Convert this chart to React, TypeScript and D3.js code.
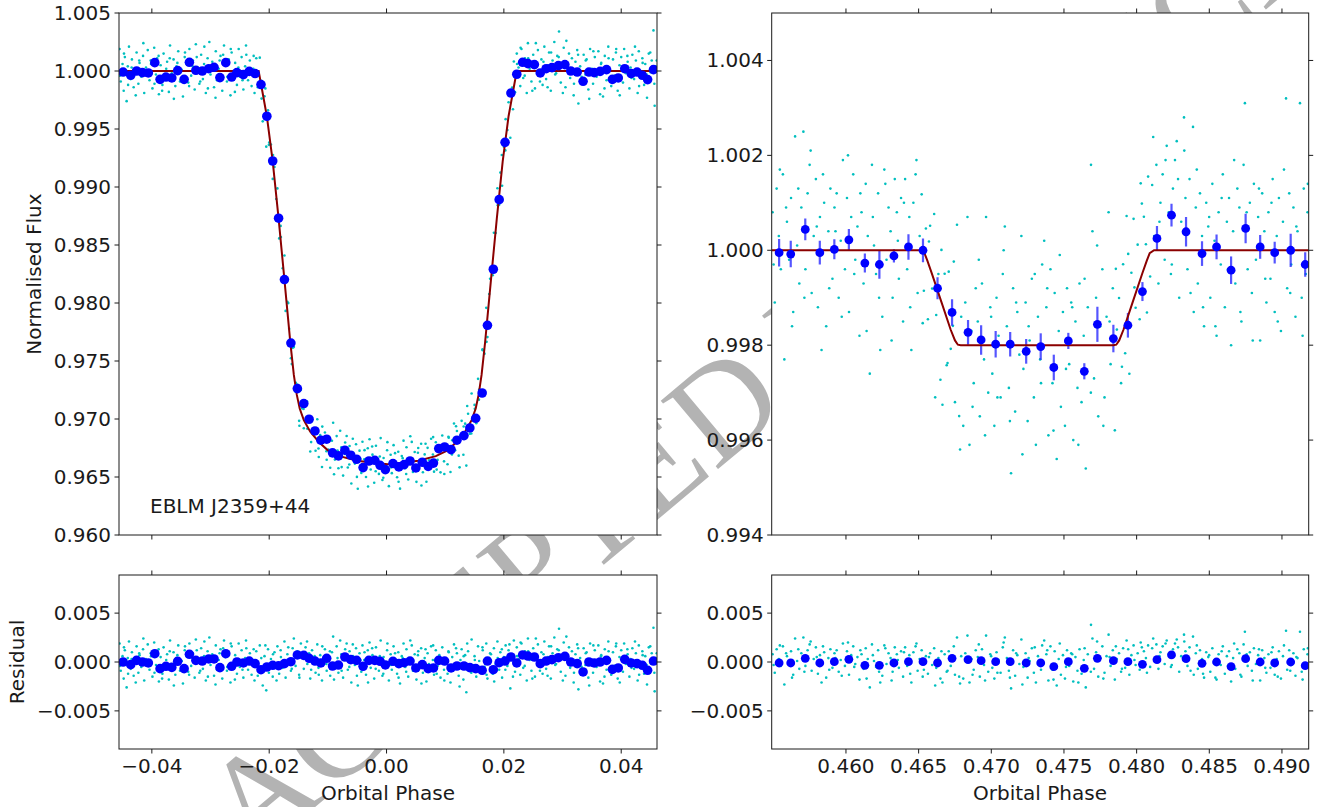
import React from 'react';
import * as d3 from 'd3';

// ---------- primary eclipse (left) ----------
const leftBinPhase = [
  -0.0449, -0.0436, -0.0426, -0.0416, -0.0406, -0.0395, -0.0386, -0.0376, -0.0366, -0.0356,
  -0.0345, -0.0336, -0.0325, -0.0314, -0.0303, -0.0294, -0.0284, -0.0274, -0.0264, -0.0255,
  -0.0244, -0.0234, -0.0224, -0.0214, -0.0204, -0.0194, -0.0184, -0.0174, -0.0163, -0.0152,
  -0.0141, -0.0132, -0.0122, -0.0112, -0.0102, -0.0092, -0.0082, -0.0071, -0.0061, -0.0051,
  -0.004, -0.003, -0.002, -0.0011, -0.0002, 0.0011, 0.0021, 0.003, 0.004, 0.005,
  0.0061, 0.0071, 0.008, 0.0089, 0.0099, 0.011, 0.012, 0.0132, 0.0142, 0.0152,
  0.0163, 0.0172, 0.0182, 0.0192, 0.0202, 0.0212, 0.0222, 0.0232, 0.0241, 0.0252,
  0.0262, 0.0272, 0.0282, 0.0293, 0.0304, 0.0314, 0.0325, 0.0335, 0.0345, 0.0354,
  0.0364, 0.0375, 0.0385, 0.0395, 0.0406, 0.0417, 0.0427, 0.0436, 0.0445, 0.0455,
];
const leftBinFlux = [
  0.99991, 0.99963, 1.0, 0.99986, 0.99983, 1.00072, 0.99928, 0.99948, 0.9994, 1.00003,
  0.99928, 1.00075, 1.00006, 1.0, 1.0002, 1.00032, 0.99943, 1.00072, 0.99948, 0.99986,
  0.99969, 0.99997, 0.99978, 0.99883, 0.9961, 0.99224, 0.98731, 0.98202, 0.97655, 0.97262,
  0.97133, 0.96998, 0.96897, 0.96817, 0.96826, 0.96708, 0.96682, 0.96731, 0.96688, 0.96653,
  0.96581, 0.96638, 0.96644, 0.96601, 0.96564, 0.96616, 0.96587, 0.96607, 0.96638, 0.96578,
  0.96627, 0.96592, 0.9662, 0.96745, 0.96759, 0.96736, 0.96817, 0.96857, 0.96923, 0.97006,
  0.97224, 0.97808, 0.98291, 0.98891, 0.99385, 0.9981, 0.99972, 1.00075, 1.00064, 1.00055,
  0.99983, 1.0002, 1.00029, 1.00046, 1.00055, 1.0, 0.99991, 0.99911, 0.99991, 0.99986,
  0.99997, 1.00012, 0.99928, 0.9994, 1.0002, 0.99978, 0.99991, 0.99963, 0.99926, 1.00012,
];
const leftBinResid = [
  0.0, -0.00027, 0.00017, 0.0, -0.0001, 0.00085, -0.00068, -0.00044, -0.00055, 0.00007,
  -0.00068, 0.00079, 0.00017, 0.0001, 0.00031, 0.00031, -0.00058, 0.00085, -0.00044, 0.0,
  -0.0001, 0.0001, -0.00017, -0.00079, -0.00051, -0.00034, -0.00038, -0.00017, 0.00003, 0.00072,
  0.00068, 0.00038, 0.0001, -0.0001, 0.00038, -0.00041, -0.00031, 0.00051, 0.00024, 0.00017,
  -0.00044, 0.00017, 0.00017, 0.00007, -0.0003, 0.00007, -0.00017, -0.00007, 0.0001, -0.00061,
  -0.00027, -0.00068, -0.00061, 0.00017, 0.0001, -0.00061, -0.00041, -0.00041, -0.00058, -0.00068,
  -0.00085, 0.0001, -0.00079, -0.00007, 0.0001, 0.00051, -0.0001, 0.00072, 0.00061, 0.00051,
  -0.00017, 0.0001, 0.00024, 0.00044, 0.00058, 0.0, -0.00017, -0.00102, 0.0, -0.0001,
  0.0, 0.00017, -0.00075, -0.00061, 0.00027, -0.0001, -0.00017, -0.00034, -0.00085, 0.0001,
];
const leftModelPhase = [
  -0.0462, -0.0218, -0.0214, -0.0204, -0.0194, -0.0184, -0.0174, -0.0164, -0.0158, -0.0153,
  -0.0148, -0.0141, -0.013, -0.0115, -0.01, -0.008, -0.005, -0.002, 0.0002, 0.0024,
  0.0054, 0.0084, 0.0104, 0.0119, 0.0134, 0.0145, 0.0152, 0.0157, 0.0162, 0.0168,
  0.0178, 0.0188, 0.0198, 0.0208, 0.0218, 0.0222, 0.0465,
];
const leftModelFlux = [
  1.0, 1.0, 0.9989, 0.9961, 0.9922, 0.9873, 0.982, 0.9766, 0.9738, 0.9721,
  0.9709, 0.9699, 0.9689, 0.968, 0.9673, 0.9668, 0.9664, 0.9662, 0.9661, 0.9662,
  0.9664, 0.9668, 0.9673, 0.968, 0.9689, 0.9699, 0.9709, 0.9721, 0.9738, 0.9766,
  0.982, 0.9873, 0.9922, 0.9961, 0.9989, 1.0, 1.0,
];
// unbinned points: [phase, residual]
const leftScatter = [
  [-0.0455, 0.0019], [-0.0453, -0.0009], [-0.045, 0.0006], [-0.0448, -0.0017], [-0.0446, 0.0012],
  [-0.0443, -0.0026], [-0.0441, 0.0004], [-0.0439, 0.0021], [-0.0436, -0.0007], [-0.0434, 0.001],
  [-0.0431, -0.0014], [-0.0429, 0.0002], [-0.0426, 0.0016], [-0.0423, -0.0011], [-0.0421, 0.0007],
  [-0.0418, -0.0005], [-0.0415, 0.0013], [-0.0413, -0.0019], [-0.041, 0.0003], [-0.0407, 0.0018],
  [-0.0404, -0.0008], [-0.0402, 0.0009], [-0.0399, -0.0015], [-0.0396, 0.002], [-0.0393, -0.0003],
  [-0.0391, 0.0011], [-0.0388, -0.002], [-0.0385, 0.0005], [-0.0382, -0.0012], [-0.038, 0.0015],
  [-0.0377, -0.0006], [-0.0374, 0.0008], [-0.0371, -0.0018], [-0.0369, 0.0022], [-0.0366, -0.0002],
  [-0.0363, 0.001], [-0.036, -0.0013], [-0.0358, 0.0004], [-0.0355, 0.0017], [-0.0352, -0.0009],
  [-0.0349, 0.0001], [-0.0347, -0.0022], [-0.0344, 0.0012], [-0.0341, 0.0006], [-0.0338, -0.001],
  [-0.0336, 0.0019], [-0.0333, -0.0004], [-0.033, 0.0009], [-0.0327, -0.0016], [-0.0325, 0.0023],
  [-0.0322, 0.0003], [-0.0319, -0.0011], [-0.0316, 0.0014], [-0.0313, -0.0007], [-0.0311, 0.0006],
  [-0.0308, -0.0019], [-0.0305, 0.0011], [-0.0302, 0.0025], [-0.03, -0.0003], [-0.0297, 0.0008],
  [-0.0294, -0.0014], [-0.0291, 0.0017], [-0.0289, -0.0008], [-0.0286, 0.0002], [-0.0283, 0.0013],
  [-0.028, -0.0017], [-0.0277, 0.0022], [-0.0275, 0.0005], [-0.0272, -0.0009], [-0.0269, 0.001],
  [-0.0266, -0.0021], [-0.0264, 0.0016], [-0.0261, -0.0002], [-0.0258, 0.0007], [-0.0255, -0.0012],
  [-0.0252, 0.0019], [-0.025, -0.0005], [-0.0247, 0.0012], [-0.0244, -0.0016], [-0.0241, 0.0004],
  [-0.0239, 0.0014], [-0.0236, -0.0008], [-0.0233, 0.0009], [-0.023, -0.0013], [-0.0227, 0.0002],
  [-0.0225, -0.0019], [-0.0222, 0.0011], [-0.0219, -0.0004], [-0.0216, 0.0017], [-0.0213, -0.001],
  [-0.0211, -0.0024], [-0.0208, 0.0006], [-0.0205, -0.0029], [-0.0202, 0.0013], [-0.02, -0.0007],
  [-0.0197, 0.0003], [-0.0194, -0.0015], [-0.0191, 0.001], [-0.0188, -0.0003], [-0.0186, 0.0016],
  [-0.0183, -0.0012], [-0.018, 0.0005], [-0.0177, -0.0006], [-0.0174, 0.0021], [-0.0172, -0.0016],
  [-0.0169, 0.0008], [-0.0166, 0.0001], [-0.0163, -0.0009], [-0.016, 0.0014], [-0.0158, 0.0024],
  [-0.0155, -0.0004], [-0.0152, 0.0011], [-0.0149, -0.0013], [-0.0146, 0.0019], [-0.0144, 0.0006],
  [-0.0141, -0.0007], [-0.0138, 0.0015], [-0.0135, -0.0002], [-0.0132, 0.0009], [-0.013, -0.0017],
  [-0.0127, 0.0012], [-0.0124, 0.0003], [-0.0121, -0.0011], [-0.0118, 0.0018], [-0.0116, -0.0006],
  [-0.0113, 0.0007], [-0.011, -0.0019], [-0.0107, 0.0004], [-0.0105, 0.0013], [-0.0102, -0.0009],
  [-0.0099, 0.0001], [-0.0096, -0.0014], [-0.0093, 0.001], [-0.0091, 0.0026], [-0.0088, -0.0005],
  [-0.0085, 0.0016], [-0.0082, -0.0011], [-0.0079, 0.0022], [-0.0077, 0.0008], [-0.0074, -0.0016],
  [-0.0071, 0.0003], [-0.0068, 0.0019], [-0.0066, -0.0008], [-0.0063, 0.0011], [-0.006, -0.0021],
  [-0.0057, 0.0006], [-0.0054, -0.0003], [-0.0052, 0.0014], [-0.0049, -0.0024], [-0.0046, 0.0009],
  [-0.0043, -0.001], [-0.0041, 0.0017], [-0.0038, 0.0002], [-0.0035, -0.0013], [-0.0032, 0.0012],
  [-0.0029, 0.002], [-0.0027, -0.0006], [-0.0024, 0.0007], [-0.0021, -0.0017], [-0.0018, 0.0015],
  [-0.0016, 0.0003], [-0.0013, -0.0009], [-0.001, 0.0022], [-0.0007, -0.0014], [-0.0005, 0.0005],
  [-0.0002, -0.0004], [0.0001, 0.0012], [0.0004, -0.0019], [0.0007, 0.0008], [0.0009, -0.0008],
  [0.0012, 0.0016], [0.0015, 0.0001], [0.0018, -0.0012], [0.002, 0.001], [0.0023, -0.0022],
  [0.0026, 0.0006], [0.0029, 0.0019], [0.0032, -0.0005], [0.0034, 0.0013], [0.0037, -0.0015],
  [0.004, 0.0003], [0.0043, 0.0017], [0.0045, -0.0009], [0.0048, 0.0008], [0.0051, -0.0018],
  [0.0054, 0.0011], [0.0056, -0.0002], [0.0059, 0.0014], [0.0062, -0.0011], [0.0065, 0.0004],
  [0.0068, -0.002], [0.007, 0.0009], [0.0073, -0.0006], [0.0076, 0.0016], [0.0079, 0.0002],
  [0.0081, -0.0013], [0.0084, 0.0012], [0.0087, -0.0004], [0.009, 0.0007], [0.0092, -0.0016],
  [0.0095, 0.0015], [0.0098, -0.0008], [0.0101, 0.0003], [0.0104, -0.0012], [0.0106, 0.001],
  [0.0109, -0.0021], [0.0112, 0.0005], [0.0115, 0.0018], [0.0117, -0.0006], [0.012, 0.0009],
  [0.0123, -0.0014], [0.0126, 0.0002], [0.0128, 0.0013], [0.0131, -0.0018], [0.0134, 0.0007],
  [0.0136, -0.0031], [0.0139, 0.0011], [0.0142, -0.0009], [0.0145, 0.0023], [0.0147, -0.0003],
  [0.015, 0.0006], [0.0153, -0.0015], [0.0156, 0.0016], [0.0158, 0.0001], [0.0161, -0.001],
  [0.0164, 0.0012], [0.0167, -0.0005], [0.017, 0.0019], [0.0172, -0.0017], [0.0175, 0.0004],
  [0.0178, 0.0008], [0.0181, -0.0012], [0.0183, 0.0014], [0.0186, -0.0002], [0.0189, 0.0021],
  [0.0192, -0.0008], [0.0194, 0.001], [0.0197, -0.0016], [0.02, 0.0005], [0.0203, 0.0017],
  [0.0206, -0.0004], [0.0208, 0.0012], [0.0211, -0.0027], [0.0214, 0.0008], [0.0217, 0.0022],
  [0.0219, -0.001], [0.0222, 0.0015], [0.0225, 0.0003], [0.0228, -0.0013], [0.023, 0.0019],
  [0.0233, -0.0006], [0.0236, 0.0011], [0.0239, -0.0019], [0.0241, 0.0024], [0.0244, 0.0002],
  [0.0247, -0.0009], [0.025, 0.0014], [0.0253, -0.0015], [0.0255, 0.0007], [0.0258, 0.0018],
  [0.0261, -0.0003], [0.0264, 0.001], [0.0266, -0.0012], [0.0269, 0.0021], [0.0272, -0.0007],
  [0.0275, 0.0005], [0.0277, 0.0016], [0.028, -0.0017], [0.0283, 0.0009], [0.0286, 0.0025],
  [0.0289, -0.0002], [0.0291, 0.0013], [0.0294, 0.0034], [0.0297, -0.001], [0.03, 0.0006],
  [0.0302, 0.002], [0.0305, -0.0014], [0.0308, 0.0003], [0.0311, 0.0015], [0.0313, -0.0006],
  [0.0316, 0.0011], [0.0319, -0.0021], [0.0322, 0.0008], [0.0325, 0.0018], [0.0327, -0.0028],
  [0.033, 0.0004], [0.0333, -0.0009], [0.0336, 0.0014], [0.0339, -0.0003], [0.0341, 0.001],
  [0.0344, -0.0016], [0.0347, 0.0019], [0.035, 0.0002], [0.0352, -0.0011], [0.0355, 0.0012],
  [0.0358, -0.0005], [0.0361, 0.0017], [0.0364, -0.002], [0.0366, 0.0007], [0.0369, -0.0022],
  [0.0372, 0.0013], [0.0375, -0.0008], [0.0378, 0.0021], [0.038, 0.0001], [0.0383, -0.0013],
  [0.0386, 0.001], [0.0389, -0.0004], [0.0391, 0.0016], [0.0394, -0.0017], [0.0397, 0.0005],
  [0.04, 0.0012], [0.0403, -0.001], [0.0405, 0.0019], [0.0408, -0.0002], [0.0411, 0.0008],
  [0.0414, -0.0015], [0.0416, 0.0003], [0.0419, 0.0014], [0.0422, -0.0007], [0.0425, 0.0009],
  [0.0428, -0.0019], [0.043, 0.0017], [0.0433, -0.0004], [0.0436, 0.0011], [0.0439, -0.0012],
  [0.0441, 0.0006], [0.0444, -0.0023], [0.0447, 0.0015], [0.045, -0.0001], [0.0452, 0.0009],
  [0.0455, 0.0035], [0.0457, -0.003], [0.0459, 0.0004],
  [-0.04545, -0.0004], [-0.04475, 0.0015], [-0.04405, -0.0012], [-0.04345, 0.0003], [-0.04275, -0.0021],
  [-0.04215, 0.0009], [-0.04145, 0.0024], [-0.04085, -0.0003], [-0.04015, 0.0006], [-0.03955, -0.0011],
  [-0.03885, 0.0013], [-0.03825, -0.0017], [-0.03755, 0.0002], [-0.03695, 0.0011], [-0.03625, -0.0024],
  [-0.03565, 0.0007], [-0.03495, -0.0006], [-0.03435, 0.0016], [-0.03365, -0.0013], [-0.03305, 0.0004],
  [-0.03235, 0.0012], [-0.03175, -0.0009], [-0.03105, 0.0021], [-0.03045, -0.0015], [-0.02975, 0.0001],
  [-0.02915, -0.0023], [-0.02845, 0.0009], [-0.02785, 0.0014], [-0.02715, -0.0005], [-0.02655, 0.0019],
  [-0.02585, -0.0018], [-0.02525, 0.0003], [-0.02455, -0.0008], [-0.02395, 0.0022], [-0.02325, -0.0002],
  [-0.02265, 0.0013], [-0.02195, -0.0014], [-0.02135, 0.0004], [-0.02065, 0.0017], [-0.02005, -0.0011],
  [-0.01935, 0.0008], [-0.01875, -0.0019], [-0.01805, 0.0012], [-0.01745, -0.0003], [-0.01675, 0.0015],
  [-0.01615, -0.0007], [-0.01545, 0.0005], [-0.01485, -0.0016], [-0.01415, 0.0009], [-0.01355, 0.0021],
  [-0.01285, -0.0008], [-0.01225, 0.0006], [-0.01155, -0.0013], [-0.01095, 0.0016], [-0.01025, -0.0002],
  [-0.00965, 0.0011], [-0.00895, -0.0018], [-0.00835, 0.0004], [-0.00765, -0.0009], [-0.00705, 0.0013],
  [-0.00635, -0.0005], [-0.00575, 0.0018], [-0.00505, -0.0014], [-0.00445, 0.0002], [-0.00375, 0.001],
  [-0.00315, -0.0021], [-0.00245, 0.0014], [-0.00185, -0.0007], [-0.00115, 0.0006], [-0.00055, -0.0012],
  [0.00015, 0.0019], [0.00075, -0.0003], [0.00145, 0.0009], [0.00205, -0.0016], [0.00275, 0.0004],
  [0.00335, -0.001], [0.00405, 0.0022], [0.00465, -0.0005], [0.00535, 0.0007], [0.00595, -0.0022],
  [0.00665, 0.0013], [0.00725, -0.0002], [0.00795, 0.0017], [0.00855, -0.0012], [0.00925, 0.0003],
  [0.00985, -0.0019], [0.01055, 0.0011], [0.01115, -0.0007], [0.01185, 0.0014], [0.01245, -0.0025],
  [0.01315, 0.0006], [0.01375, 0.0019], [0.01445, -0.0011], [0.01505, 0.0002], [0.01575, -0.0006],
  [0.01635, 0.0015], [0.01705, -0.0013], [0.01765, 0.0009], [0.01835, -0.002], [0.01895, 0.0004],
  [0.01965, 0.0013], [0.02025, -0.0008], [0.02095, 0.0018], [0.02155, -0.0015], [0.02225, 0.0006],
  [0.02285, 0.002], [0.02355, -0.0004], [0.02415, 0.0011], [0.02485, -0.0017], [0.02545, 0.0024],
  [0.02615, -0.0009], [0.02675, 0.0008], [0.02745, -0.0014], [0.02805, 0.0016], [0.02875, -0.0003],
  [0.02935, 0.0012], [0.03005, -0.0019], [0.03065, 0.0026], [0.03135, 0.0002], [0.03195, -0.0011],
  [0.03265, 0.0014], [0.03325, -0.0005], [0.03395, 0.0009], [0.03455, -0.0024], [0.03525, 0.0017],
  [0.03585, -0.0002], [0.03655, 0.0006], [0.03715, -0.0015], [0.03785, 0.0011], [0.03845, -0.0008],
  [0.03915, 0.0019], [0.03975, -0.0021], [0.04045, 0.0004], [0.04105, 0.0013], [0.04175, -0.0006],
  [0.04235, 0.0021], [0.04305, -0.0013], [0.04365, 0.0007], [0.04435, -0.0003], [0.04495, 0.0016],
  [0.04565, -0.0011], [0.04605, 0.0009],
];

// ---------- secondary eclipse (right) ----------
const rightBinPhase = [
  0.4554, 0.4562, 0.4572, 0.4582, 0.4592, 0.4602, 0.4613, 0.4623, 0.4633, 0.4643,
  0.4653, 0.4663, 0.4673, 0.4684, 0.4693, 0.4703, 0.4713, 0.4724, 0.4734, 0.4743,
  0.4753, 0.4764, 0.4773, 0.4784, 0.4794, 0.4804, 0.4814, 0.4824, 0.4834, 0.4845,
  0.4855, 0.4865, 0.4875, 0.4885, 0.4895, 0.4906, 0.4916,
];
const rightBinFlux = [
  0.99995, 0.99992, 1.00044, 0.99995, 1.00002, 1.00022, 0.99973, 0.9997, 0.99988, 1.00007,
  1.0, 0.9992, 0.99869, 0.99827, 0.99811, 0.99802, 0.99802, 0.99787, 0.99797, 0.99753,
  0.99809, 0.99745, 0.99844, 0.99814, 0.99842, 0.99913, 1.00025, 1.00074, 1.00039, 0.99993,
  1.00007, 0.99958, 1.00046, 1.00007, 0.99995, 1.0, 0.9997,
];
const rightBinErr = [
  0.00029, 0.00028, 0.00023, 0.00025, 0.00021, 0.00023, 0.0002, 0.0003, 0.00014, 0.00027,
  0.00025, 0.00023, 0.00028, 0.00026, 0.00031, 0.00028, 0.00026, 0.00026, 0.00028, 0.00027,
  0.00017, 0.00017, 0.00037, 0.00029, 0.00026, 0.0002, 0.00026, 0.00024, 0.00031, 0.00026,
  0.00026, 0.00029, 0.00031, 0.00025, 0.00023, 0.00035, 0.00026,
];
const rightBinResid = [
  -0.0001, -0.0001, 0.00038, -0.0001, 0.00003, 0.00027, -0.00034, -0.00034, -0.0001, 0.00003,
  0.00003, -0.0001, 0.00038, 0.00024, 0.00014, 0.00003, 0.00003, -0.0001, -0.0001, -0.00048,
  0.00003, -0.00065, 0.00038, 0.00014, 0.00003, -0.00024, 0.00024, 0.00072, 0.00034, -0.00014,
  0.0, -0.00048, 0.00034, 0.0, -0.0001, 0.0, -0.00038,
];
const rightModelPhase = [
  0.4545, 0.4651, 0.4654, 0.4656, 0.4659, 0.4666, 0.4672, 0.4675, 0.4677, 0.4679,
  0.4784, 0.4786, 0.4788, 0.4791, 0.4797, 0.4804, 0.4807, 0.4809, 0.4812, 0.4925,
];
const rightModelFlux = [
  1.0, 1.0, 0.99994, 0.99978, 0.99952, 0.99888, 0.99833, 0.9981, 0.99801, 0.998,
  0.998, 0.99801, 0.9981, 0.99833, 0.99888, 0.99952, 0.99978, 0.99994, 1.0, 1.0,
];
const rightScatter = [
  [0.45495, 0.0008], [0.4551, -0.0011], [0.45523, 0.0013], [0.45538, 0.0003], [0.45552, -0.0004],
  [0.45566, 0.0016], [0.45576, -0.0023], [0.45594, 0.0006], [0.45609, -0.0002], [0.45622, 0.0011],
  [0.45637, -0.0013], [0.4565, 0.0024], [0.45664, 0.0001], [0.45679, -0.0007], [0.45693, 0.0009],
  [0.45707, 0.0025], [0.45721, -0.0004], [0.45736, 0.0012], [0.4575, 0.0018], [0.45764, -0.0009],
  [0.45778, 0.0003], [0.45793, 0.0015], [0.45807, -0.0012], [0.45821, 0.0007], [0.45832, -0.0021],
  [0.4585, 0.001], [0.45864, -0.0016], [0.45879, 0.0004], [0.45893, 0.0013], [0.45907, -0.0006],
  [0.45921, 0.0009], [0.45936, 0.0012], [0.4595, -0.001], [0.45964, 0.0002], [0.45979, 0.0019],
  [0.45993, -0.0004], [0.46007, 0.0011], [0.46021, -0.0013], [0.46036, 0.0007], [0.4605, 0.0016],
  [0.46064, -0.0002], [0.46079, 0.0005], [0.46093, -0.0018], [0.46107, 0.0008], [0.46121, -0.0007],
  [0.46136, 0.0014], [0.4615, 0.0003], [0.46164, -0.0026], [0.46179, 0.0018], [0.46193, 0.0001],
  [0.46207, -0.0005], [0.46221, 0.0012], [0.46236, -0.0021], [0.4625, -0.0014], [0.46264, 0.0017],
  [0.46279, -0.0002], [0.46293, 0.0009], [0.46307, 0.0004], [0.46321, -0.001], [0.46336, 0.0015],
  [0.4635, 0.0008], [0.46364, -0.0006], [0.46379, 0.0011], [0.46393, -0.0015], [0.46407, 0.0015],
  [0.46421, -0.0004], [0.46436, 0.0007], [0.4645, -0.0021], [0.46464, 0.001], [0.46479, 0.0016],
  [0.46493, -0.0009], [0.46507, 0.0003], [0.46521, 0.0012], [0.46536, -0.0008], [0.4655, 0.0006],
  [0.46564, -0.0012], [0.46579, 0.0009], [0.46593, -0.0003], [0.46607, 0.0014], [0.46621, -0.0006],
  [0.46636, 0.0004], [0.4665, -0.0017], [0.46664, -0.0021], [0.46679, 0.0008], [0.46693, -0.001],
  [0.46707, 0.0011], [0.46721, -0.0004], [0.46736, 0.0002], [0.4675, -0.0013], [0.46764, 0.0025],
  [0.46779, -0.0015], [0.46793, 0.0006], [0.46807, -0.0017], [0.46821, 0.0009], [0.46836, 0.0027],
  [0.4685, -0.0021], [0.46864, 0.0003], [0.46879, -0.0008], [0.46893, 0.0012], [0.46907, 0.0005],
  [0.46921, -0.0015], [0.46936, 0.0013], [0.4695, -0.0003], [0.46964, 0.0027], [0.46979, -0.001],
  [0.46993, 0.0008], [0.47007, -0.0006], [0.47021, -0.0017], [0.47036, 0.001], [0.4705, 0.0002],
  [0.47064, -0.0011], [0.47079, 0.0015], [0.47093, 0.0025], [0.47107, 0.0004], [0.47121, -0.0009],
  [0.47136, -0.0027], [0.4715, 0.0012], [0.47164, -0.0014], [0.47179, 0.0007], [0.47193, -0.0002],
  [0.47207, 0.0023], [0.47221, -0.0005], [0.47236, 0.0009], [0.4725, -0.0016], [0.47264, 0.0001],
  [0.47279, 0.0014], [0.47293, -0.0011], [0.47307, -0.0021], [0.47321, 0.0006], [0.47336, -0.0003],
  [0.4735, 0.0017], [0.47364, 0.0022], [0.47379, 0.0008], [0.47393, -0.0019], [0.47407, 0.0016],
  [0.47421, -0.0008], [0.47436, 0.0011], [0.4745, -0.0024], [0.47464, 0.0003], [0.47479, -0.0013],
  [0.47493, 0.0007], [0.47507, -0.0017], [0.47521, 0.0012], [0.47536, -0.0004], [0.4755, 0.0009],
  [0.47564, -0.002], [0.47579, 0.0005], [0.47593, -0.0009], [0.47607, 0.0013], [0.47621, -0.0012],
  [0.47636, 0.0002], [0.4765, -0.0026], [0.47664, 0.0008], [0.47686, 0.0038], [0.47696, 0.0024],
  [0.47707, -0.0007], [0.47721, 0.001], [0.47736, -0.0015], [0.4775, 0.0004], [0.47764, 0.0016],
  [0.47779, -0.0011], [0.47793, 0.0006], [0.47807, 0.0028], [0.47821, -0.0004], [0.47836, 0.0012],
  [0.4785, -0.0018], [0.47864, 0.0003], [0.47879, 0.0009], [0.47893, -0.001], [0.47907, 0.0014],
  [0.47921, -0.0006], [0.47931, 0.0022], [0.4795, -0.0013], [0.47964, 0.0007], [0.47979, 0.0017],
  [0.47993, -0.0003], [0.48007, 0.0009], [0.48021, -0.0008], [0.48036, 0.0015], [0.4805, 0.0011],
  [0.48064, 0.0004], [0.48079, 0.0017], [0.48093, -0.0005], [0.48107, 0.0014], [0.48121, 0.0003],
  [0.48136, 0.0018], [0.4815, -0.0007], [0.48164, 0.001], [0.48179, 0.0016], [0.48193, -0.0002],
  [0.48207, 0.0022], [0.48221, 0.0008], [0.48236, -0.0005], [0.4825, 0.0013], [0.48264, 0.0019],
  [0.48276, 0.0023], [0.48293, -0.001], [0.48307, 0.0006], [0.48326, 0.0028], [0.48336, 0.0011],
  [0.4835, -0.0004], [0.48364, 0.0015], [0.48388, 0.0026], [0.48393, -0.0013], [0.48407, 0.0009],
  [0.48421, -0.0007], [0.48436, 0.0012], [0.4845, 0.0003], [0.48464, -0.0016], [0.48479, 0.001],
  [0.48493, 0.0005], [0.48507, -0.001], [0.48521, 0.0014], [0.48536, 0.0002], [0.4855, -0.0018],
  [0.48564, 0.0008], [0.48579, -0.0003], [0.48593, 0.0016], [0.48607, -0.0012], [0.48621, 0.0006],
  [0.48636, 0.0011], [0.4865, -0.002], [0.48664, 0.0004], [0.48679, -0.0007], [0.48693, 0.0013],
  [0.48707, 0.0009], [0.48721, -0.0015], [0.48736, 0.0018], [0.48745, 0.0031], [0.48764, -0.0004],
  [0.48779, 0.001], [0.48793, -0.0009], [0.48807, 0.0014], [0.48821, -0.0002], [0.48836, 0.0007],
  [0.4885, -0.0019], [0.48864, 0.0012], [0.48879, 0.0004], [0.48893, -0.0011], [0.48907, 0.0008],
  [0.48921, -0.0006], [0.48936, 0.0015], [0.4895, -0.0013], [0.48964, 0.0003], [0.48979, 0.0011],
  [0.48993, -0.0017], [0.49007, 0.0006], [0.49028, 0.0032], [0.49036, -0.0008], [0.4905, 0.0012],
  [0.49064, -0.0003], [0.49079, 0.0009], [0.49093, -0.0014], [0.49107, 0.0004], [0.49124, 0.0031],
  [0.49136, -0.001], [0.4915, 0.0013], [0.49164, -0.0005], [0.49176, 0.0008],
  [0.45502, -0.0003], [0.45545, 0.0017], [0.45588, 0.0009], [0.45629, -0.0016], [0.45672, 0.0013],
  [0.45714, -0.001], [0.45757, 0.0021], [0.45799, 0.0005], [0.45842, 0.0016], [0.45885, -0.0008],
  [0.45928, 0.0004], [0.45971, -0.0014], [0.46014, 0.002], [0.46057, -0.0005], [0.46099, 0.0012],
  [0.46142, -0.0017], [0.46185, 0.0007], [0.46228, -0.001], [0.46271, 0.0014], [0.46314, -0.0019],
  [0.46357, 0.0002], [0.46399, 0.001], [0.46442, -0.0012], [0.46485, 0.0019], [0.46528, -0.0015],
  [0.46571, 0.0005], [0.46614, -0.0024], [0.46657, 0.0011], [0.46699, -0.0009], [0.46742, 0.0016],
  [0.46785, -0.0022], [0.46828, 0.0003], [0.46871, -0.0013], [0.46914, 0.0018], [0.46957, -0.0019],
  [0.46999, 0.0006], [0.47042, -0.0011], [0.47085, 0.002], [0.47128, -0.0016], [0.47171, 0.0009],
  [0.47214, -0.0023], [0.47257, 0.0004], [0.47299, 0.0015], [0.47342, -0.0008], [0.47385, 0.0012],
  [0.47428, -0.0018], [0.47471, 0.0019], [0.47514, -0.0005], [0.47557, 0.0008], [0.47599, -0.0021],
  [0.47642, 0.0014], [0.47685, -0.001], [0.47728, 0.0021], [0.47771, -0.0017], [0.47814, 0.0005],
  [0.47857, 0.0016], [0.47899, -0.0007], [0.47942, 0.0013], [0.47985, 0.0002], [0.48028, 0.002],
  [0.48071, -0.0011], [0.48114, 0.0024], [0.48157, 0.0006], [0.48199, 0.0019], [0.48242, -0.0003],
  [0.48285, 0.0015], [0.48328, 0.0021], [0.48371, -0.0009], [0.48414, 0.0017], [0.48457, -0.0012],
  [0.48499, 0.0007], [0.48542, -0.0016], [0.48585, 0.0011], [0.48628, -0.0004], [0.48671, 0.0019],
  [0.48714, -0.0013], [0.48757, 0.0008], [0.48799, -0.0019], [0.48842, 0.0013], [0.48885, -0.0006],
  [0.48928, 0.001], [0.48971, -0.0015], [0.49014, 0.0017], [0.49057, -0.0009], [0.49099, 0.0005],
  [0.49142, -0.0018], [0.49178, 0.0014],
];

// ---------- ticks ----------
const leftXTicks = [-0.04, -0.02, 0.0, 0.02, 0.04];
const leftYTicks = [0.96, 0.965, 0.97, 0.975, 0.98, 0.985, 0.99, 0.995, 1.0, 1.005];
const rightXTicks = [0.46, 0.465, 0.47, 0.475, 0.48, 0.485, 0.49];
const rightYTicks = [0.994, 0.996, 0.998, 1.0, 1.002, 1.004];
const residTicks = [-0.005, 0.0, 0.005];

const FONT = 'DejaVu Sans, sans-serif';
const INK = '#1a1a1a';
const CYAN = '#00bfbf';
const TL = 4.5;

function Axes({ x, y, xTicks, yTicks, xFmt, yFmt, xLabels }: any) {
  const [x0, x1] = x.range();
  const [yb, yt] = y.range();
  return (
    <g fontFamily={FONT} fontSize={20} fill={INK}>
      {xTicks.map((t: number) => (
        <g key={'x' + t}>
          <line x1={x(t)} x2={x(t)} y1={yb} y2={yb + TL} stroke={INK} />
          <line x1={x(t)} x2={x(t)} y1={yt} y2={yt - TL} stroke={INK} />
          {xLabels && (
            <text x={x(t)} y={yb + 24} textAnchor="middle">
              {xFmt(t)}
            </text>
          )}
        </g>
      ))}
      {yTicks.map((t: number) => (
        <g key={'y' + t}>
          <line x1={x0} x2={x0 - TL} y1={y(t)} y2={y(t)} stroke={INK} />
          <line x1={x1} x2={x1 + TL} y1={y(t)} y2={y(t)} stroke={INK} />
          <text x={x0 - 8} y={y(t) + 7} textAnchor="end">
            {yFmt(t)}
          </text>
        </g>
      ))}
      <rect x={x0} y={yt} width={x1 - x0} height={yb - yt} fill="none" stroke={INK} strokeWidth={1} />
    </g>
  );
}

export default function App() {
  const xL = d3.scaleLinear().domain([-0.0456, 0.0461]).range([119, 657]);
  const xR = d3.scaleLinear().domain([0.45489, 0.49184]).range([771.7, 1308.7]);
  const yL = d3.scaleLinear().domain([0.96, 1.005]).range([535, 13]);
  const yR = d3.scaleLinear().domain([0.994, 1.005]).range([535, 13]);
  const yResL = d3.scaleLinear().domain([-0.0089, 0.0089]).range([749, 575]);
  const yResR = d3.scaleLinear().domain([-0.0089, 0.0089]).range([749, 575]);

  // piecewise model curves (polylinear scales through the read model points)
  const modelL = d3.scaleLinear().domain(leftModelPhase).range(leftModelFlux);
  const modelR = d3.scaleLinear().domain(rightModelPhase).range(rightModelFlux);

  const lineL = d3.line<number>().x((p) => xL(p)).y((p, i) => yL(leftModelFlux[i]));
  const lineR = d3.line<number>().x((p) => xR(p)).y((p, i) => yR(rightModelFlux[i]));

  const f2 = d3.format('.2f');
  const f3 = d3.format('.3f');

  const panels = [
    { id: 'cTL', x: xL, y: yL },
    { id: 'cTR', x: xR, y: yR },
    { id: 'cBL', x: xL, y: yResL },
    { id: 'cBR', x: xR, y: yResR },
  ];

  return (
    <svg width={1326} height={807} style={{ position: 'absolute', left: 0, top: 0, background: '#fff' }}>
      <defs>
        {panels.map((p) => (
          <clipPath id={p.id} key={p.id}>
            <rect x={p.x.range()[0]} y={p.y.range()[1]} width={p.x.range()[1] - p.x.range()[0]} height={p.y.range()[0] - p.y.range()[1]} />
          </clipPath>
        ))}
        <clipPath id="page">
          <rect x={0} y={0} width={1326} height={807} />
        </clipPath>
      </defs>

      {/* watermark, hidden behind the axes backgrounds */}
      <g clipPath="url(#page)">
        <text
          x={252}
          y={860}
          transform="rotate(-40 252 860)"
          fontFamily="Liberation Serif, serif"
          fontSize={136}
          fill="#b3b3b3"
        >
          ACCEPTED MANUSCRIPT
        </text>
      </g>
      {panels.map((p) => (
        <rect key={'bg' + p.id} x={p.x.range()[0]} y={p.y.range()[1]} width={p.x.range()[1] - p.x.range()[0]} height={p.y.range()[0] - p.y.range()[1]} fill="#fff" />
      ))}

      {/* top left: primary eclipse */}
      <g clipPath="url(#cTL)">
        {leftScatter.map(([p, r], i) => (
          <circle key={i} cx={xL(p)} cy={yL(modelL(p) + r)} r={1.3} fill={CYAN} />
        ))}
        <path d={lineL(leftModelPhase) || ''} fill="none" stroke="#8b0000" strokeWidth={2} />
        {leftBinPhase.map((p, i) => (
          <circle key={i} cx={xL(p)} cy={yL(leftBinFlux[i])} r={4.8} fill="#0000ff" />
        ))}
      </g>

      {/* top right: secondary eclipse */}
      <g clipPath="url(#cTR)">
        {rightScatter.map(([p, r], i) => (
          <circle key={i} cx={xR(p)} cy={yR(modelR(p) + r)} r={1.3} fill={CYAN} />
        ))}
        {rightBinPhase.map((p, i) => (
          <line key={i} x1={xR(p)} x2={xR(p)} y1={yR(rightBinFlux[i] - rightBinErr[i])} y2={yR(rightBinFlux[i] + rightBinErr[i])} stroke="#2a2aff" strokeOpacity={0.8} strokeWidth={2.2} />
        ))}
        <path d={lineR(rightModelPhase) || ''} fill="none" stroke="#8b0000" strokeWidth={2} />
        {rightBinPhase.map((p, i) => (
          <circle key={i} cx={xR(p)} cy={yR(rightBinFlux[i])} r={4.4} fill="#0000ff" />
        ))}
      </g>

      {/* residuals */}
      <g clipPath="url(#cBL)">
        {leftScatter.map(([p, r], i) => (
          <circle key={i} cx={xL(p)} cy={yResL(r)} r={1.3} fill={CYAN} />
        ))}
        {leftBinPhase.map((p, i) => (
          <circle key={i} cx={xL(p)} cy={yResL(leftBinResid[i])} r={4.8} fill="#0000ff" />
        ))}
      </g>
      <g clipPath="url(#cBR)">
        {rightScatter.map(([p, r], i) => (
          <circle key={i} cx={xR(p)} cy={yResR(r)} r={1.3} fill={CYAN} />
        ))}
        {rightBinPhase.map((p, i) => (
          <circle key={i} cx={xR(p)} cy={yResR(rightBinResid[i])} r={4.4} fill="#0000ff" />
        ))}
      </g>

      <Axes x={xL} y={yL} xTicks={leftXTicks} yTicks={leftYTicks} xFmt={f2} yFmt={f3} xLabels={false} />
      <Axes x={xR} y={yR} xTicks={rightXTicks} yTicks={rightYTicks} xFmt={f3} yFmt={f3} xLabels={false} />
      <Axes x={xL} y={yResL} xTicks={leftXTicks} yTicks={residTicks} xFmt={f2} yFmt={f3} xLabels={true} />
      <Axes x={xR} y={yResR} xTicks={rightXTicks} yTicks={residTicks} xFmt={f3} yFmt={f3} xLabels={true} />

      <g fontFamily={FONT} fontSize={20} fill={INK}>
        <text x={150} y={513}>EBLM J2359+44</text>
        <text x={388} y={800} textAnchor="middle">Orbital Phase</text>
        <text x={1040} y={800} textAnchor="middle">Orbital Phase</text>
        <text x={41} y={274} textAnchor="middle" transform="rotate(-90 41 274)">Normalised Flux</text>
        <text x={24} y={662} textAnchor="middle" transform="rotate(-90 24 662)">Residual</text>
      </g>
    </svg>
  );
}
